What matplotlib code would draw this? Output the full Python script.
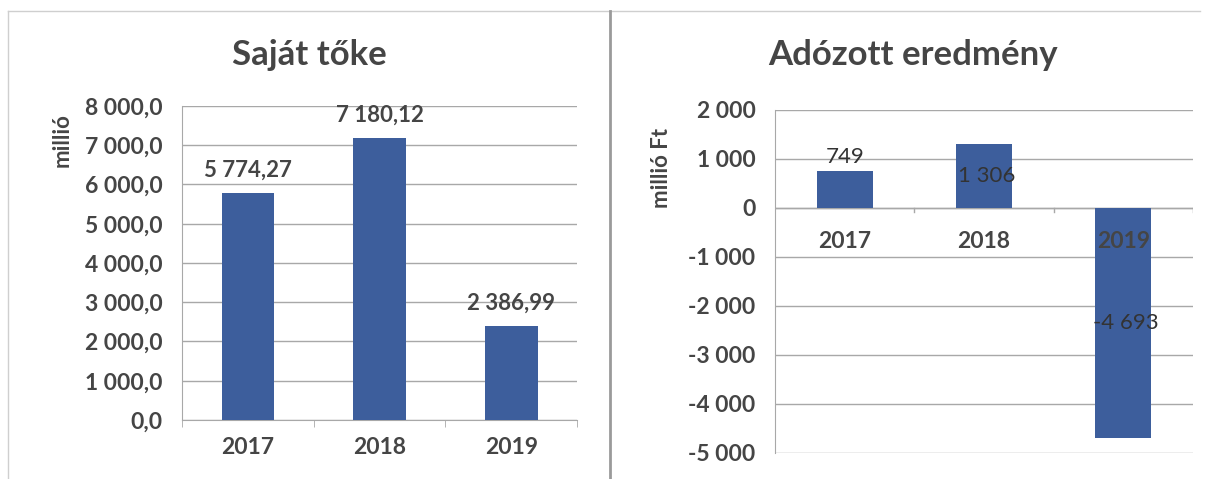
import matplotlib
matplotlib.use('Agg')

import matplotlib.pyplot as plt
import numpy as np

years = ['2017', '2018', '2019']
equity = [5774.27, 7180.12, 2386.99]
equity_labels = ['5 774,27', '7 180,12', '2 386,99']
profit = [749, 1306, -4693]
profit_labels = ['749', '1 306', '-4 693']

equity_ticks = [0, 1000, 2000, 3000, 4000, 5000, 6000, 7000, 8000]
profit_ticks = [-5000, -4000, -3000, -2000, -1000, 0, 1000, 2000]

plt.rcParams['font.family'] = ['Lato', 'DejaVu Sans']
TXT = '#454545'
BAR = '#3d5e9c'
GRID = '#a8a8a8'
FS = 16.5


def thousands(v, dec):
    s = f'{abs(v):,.{dec}f}'.replace(',', ' ').replace('.', ',')
    return ('-' if v < 0 else '') + s


fig = plt.figure(figsize=(12.08, 4.79), dpi=100)

# panel frames (scanned page look)
fig.add_artist(plt.Line2D([0.007, 0.993], [0.978, 0.978], color='#cfcfcf', lw=1))
fig.add_artist(plt.Line2D([0.007, 0.007], [0.0, 0.978], color='#cfcfcf', lw=1))
fig.add_artist(plt.Line2D([0.505, 0.505], [0.0, 0.978], color='#9a9a9a', lw=2))

# ---- left: Saját tőke
ax1 = fig.add_axes([0.1507, 0.1232, 0.327, 0.6555])
x = np.arange(len(years))
ax1.bar(x, equity, width=0.4, color=BAR, zorder=3)
ax1.set_xlim(-0.5, 2.5)
ax1.set_ylim(0, 8000)
ax1.set_yticks(equity_ticks)
ax1.set_yticklabels([thousands(t, 1) for t in equity_ticks])
ax1.set_xticks(x)
ax1.set_xticklabels(years)
ax1.set_xticks([-0.5, 0.5, 1.5, 2.5], minor=True)
ax1.tick_params(axis='x', which='major', length=0, pad=12)
ax1.tick_params(axis='x', which='minor', length=5, color=GRID, direction='out')
ax1.tick_params(axis='y', length=0, pad=14)
ax1.grid(axis='y', color=GRID, lw=1, zorder=0)
for i, v in enumerate(equity):
    ax1.text(i, v + 330, equity_labels[i], ha='center', va='bottom',
             fontsize=16, fontweight='bold', color=TXT, zorder=4)
fig.text(309 / 1208, 1 - 55 / 479, 'Saját tőke', ha='center', va='center',
         fontsize=25, fontweight='bold', color=TXT)
fig.text(62 / 1208, 1 - 140 / 479, 'millió', rotation=90, ha='center', va='center',
         fontsize=16, fontweight='bold', color=TXT)

# ---- right: Adózott eredmény
ax2 = fig.add_axes([0.6416, 0.0543, 0.346, 0.7161])
ax2.bar(x, profit, width=0.4, color=BAR, zorder=3)
ax2.set_xlim(-0.5, 2.5)
ax2.set_ylim(-5000, 2000)
ax2.set_yticks(profit_ticks)
ax2.set_yticklabels([thousands(t, 0) for t in profit_ticks])
ax2.set_xticks([])
ax2.tick_params(axis='y', length=0, pad=14)
ax2.grid(axis='y', color=GRID, lw=1, zorder=0)
ax2.axhline(0, color=GRID, lw=1, zorder=2)
for b in [0.5, 1.5, 2.5]:
    ax2.plot([b, b], [0, -90], color=GRID, lw=1, zorder=2)
for i, yr in enumerate(years):
    ax2.text(i, -680, yr, ha='center', va='center', fontsize=FS,
             fontweight='bold', color=TXT, zorder=5)
label_y = [1050, profit[1] / 2, profit[2] / 2]
for i, lab in enumerate(profit_labels):
    ax2.text(i + (0.02 if i > 0 else 0), label_y[i], lab, ha='center', va='center',
             fontsize=16, color='#333333', zorder=5)
fig.text(913 / 1208, 1 - 55 / 479, 'Adózott eredmény', ha='center', va='center',
         fontsize=25, fontweight='bold', color=TXT)
fig.text(662 / 1208, 1 - 168 / 479, 'millió Ft', rotation=90, ha='center', va='center',
         fontsize=16, fontweight='bold', color=TXT)

for ax in (ax1, ax2):
    for s in ('top', 'right'):
        ax.spines[s].set_visible(False)
    ax.spines['left'].set_color(GRID)
    ax.spines['bottom'].set_color(GRID)
    for lab in ax.get_yticklabels() + ax.get_xticklabels():
        lab.set_fontsize(FS)
        lab.set_fontweight('bold')
        lab.set_color(TXT)
ax2.spines['bottom'].set_visible(False)

fig.savefig('out.png', dpi=100)
